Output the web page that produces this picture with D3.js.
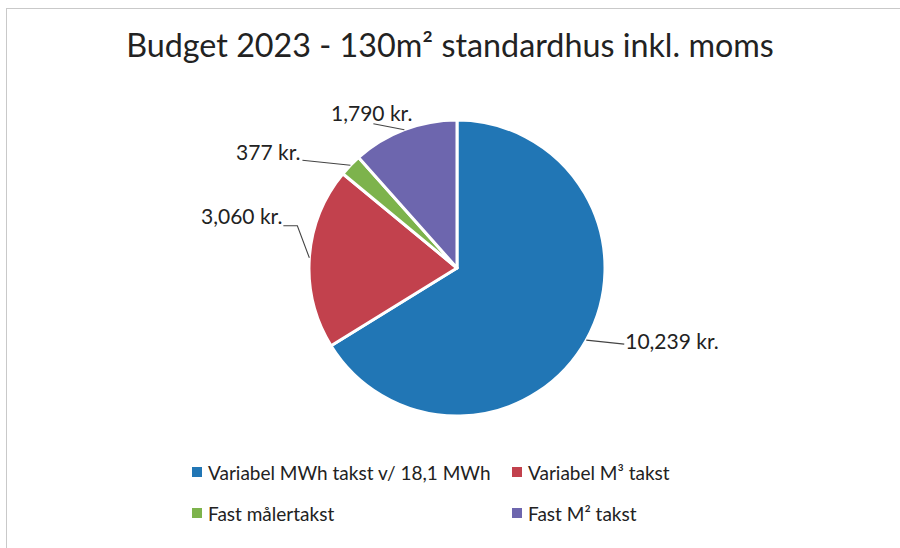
<!DOCTYPE html>
<html>
<head>
<meta charset="utf-8">
<script src="https://cdn.jsdelivr.net/npm/d3@7"></script>
<style>
  body { margin: 0; background: #fff; }
  svg { display: block; font-family: Lato, "Open Sans", sans-serif; }
</style>
</head>
<body>
<svg id="canvas"></svg>
<script>
const width = 900;
const height = 548;

// data
const categories = ["Variabel MWh takst v/ 18,1 MWh", "Variabel M³ takst", "Fast målertakst", "Fast M² takst"];
const values = [10239, 3060, 377, 1790];
const colors = ["#2176b5", "#c2414d", "#7db34c", "#6d66ae"];
const title = "Budget 2023 - 130m² standardhus inkl. moms";

const fmt = d3.format(",");

const svg = d3.select("#canvas")
  .attr("width", width)
  .attr("height", height);

// chart border
svg.append("rect")
  .attr("x", 6.5).attr("y", 8.5)
  .attr("width", 900).attr("height", 600)
  .attr("fill", "none")
  .attr("stroke", "#c9c9c9")
  .attr("stroke-width", 1);

svg.append("text")
  .attr("x", 450).attr("y", 57)
  .attr("text-anchor", "middle")
  .attr("font-size", 32.3)
  .attr("fill", "#222")
  .text(title);

const cx = 457, cy = 268, r = 148;

const pie = d3.pie().sort(null).value(d => d)(values);
const arc = d3.arc().innerRadius(0).outerRadius(r);

const g = svg.append("g").attr("transform", `translate(${cx},${cy})`);

g.selectAll("path.slice")
  .data(pie)
  .enter()
  .append("path")
  .attr("class", "slice")
  .attr("d", arc)
  .attr("fill", (d, i) => colors[i])
  .attr("stroke", "#fff")
  .attr("stroke-width", 3)
  .attr("stroke-linejoin", "round");

// label layout: leader line bends relative to the arc point (best-fit style)
const labelLayout = [
  { pts: [[38, 4]], tx: 39, ty: 9, anchor: "start" },
  { pts: [[-12, -32], [-26, -32]], tx: -27, ty: -34, anchor: "end" },
  { pts: [[-48, -5]], tx: -50, ty: -5, anchor: "end" },
  { pts: [[-31, -6]], tx: 8, ty: -9, anchor: "end" }
];

const labels = svg.append("g");

pie.forEach((d, i) => {
  const a = (d.startAngle + d.endAngle) / 2;
  const px = cx + r * Math.sin(a);
  const py = cy - r * Math.cos(a);
  const L = labelLayout[i];
  const line = [[px, py]].concat(L.pts.map(p => [px + p[0], py + p[1]]));
  labels.append("path")
    .attr("d", d3.line()(line))
    .attr("fill", "none")
    .attr("stroke", "#444")
    .attr("stroke-width", 1.1);
  labels.append("text")
    .attr("x", px + L.tx)
    .attr("y", py + L.ty)
    .attr("text-anchor", L.anchor)
    .attr("font-size", 21)
    .attr("fill", "#222")
    .text(fmt(values[i]) + " kr.");
});

// legend
const legendX = [192, 512];
const legendY = [480, 521];
const legend = svg.append("g");
categories.forEach((c, i) => {
  const x = legendX[i % 2], y = legendY[Math.floor(i / 2)];
  legend.append("rect")
    .attr("x", x).attr("y", y - 13)
    .attr("width", 10).attr("height", 10)
    .attr("fill", colors[i]);
  legend.append("text")
    .attr("x", x + 16).attr("y", y)
    .attr("font-size", 19)
    .attr("fill", "#222")
    .text(c);
});
</script>
</body>
</html>
